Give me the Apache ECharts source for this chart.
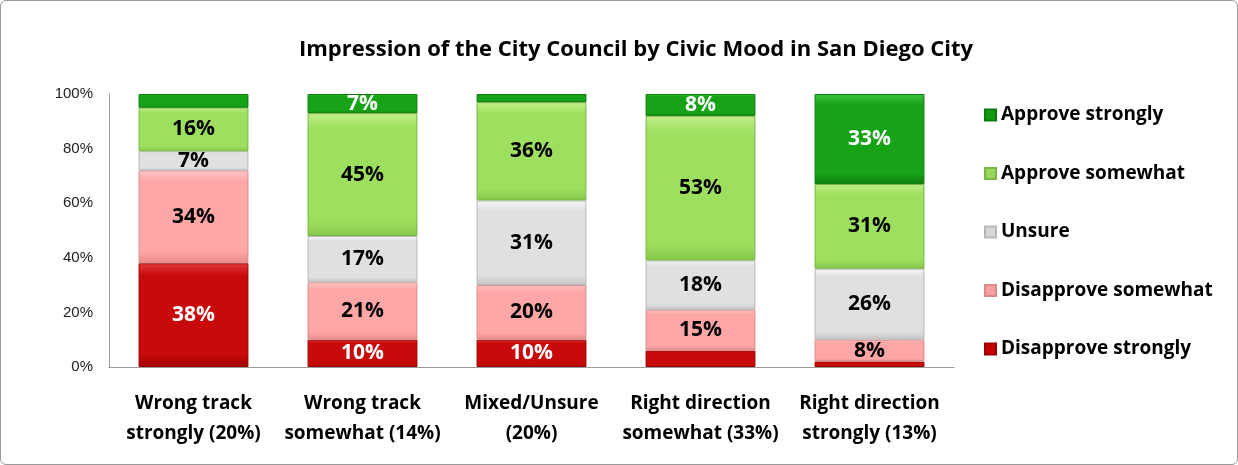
<!DOCTYPE html>
<html>
<head>
<meta charset="utf-8">
<script src="https://cdn.jsdelivr.net/npm/echarts@6/dist/echarts.min.js"></script>
<style>
  html, body { margin: 0; padding: 0; background: #fff; }
  #chart { width: 1238px; height: 465px; box-sizing: border-box; border: 1px solid #9a9a9a; border-radius: 6px; }
</style>
</head>
<body>
<div id="chart"></div>
<script>
// categories
const categories = [
  "Wrong track\nstrongly (20%)",
  "Wrong track\nsomewhat (14%)",
  "Mixed/Unsure\n(20%)",
  "Right direction\nsomewhat (33%)",
  "Right direction\nstrongly (13%)"
]
// series values (percent)
const disapproveStrongly = [38, 10, 10, 6, 2]
const disapproveSomewhat = [34, 21, 20, 15, 8]
const unsure = [7, 17, 31, 18, 26]
const approveSomewhat = [16, 45, 36, 53, 31]
const approveStrongly = [5, 7, 3, 8, 33]
const yTicks = [0, 20, 40, 60, 80, 100]

const font = "'Open Sans', 'Liberation Sans', sans-serif"

// 渐变填充 - 模拟 Excel 斜面效果
const bevel = (base, light, dark) => ({
  type: "linear", x: 0, y: 0, x2: 0, y2: 1,
  colorStops: [
    { offset: 0, color: light },
    { offset: 0.12, color: base },
    { offset: 0.88, color: base },
    { offset: 1, color: dark }
  ]
})

const seriesDefs = [
  { name: "Disapprove strongly", data: disapproveStrongly, color: bevel("#c80a0a", "#e23a3a", "#a00000"), icon: "#c40000", border: "#9a0000", text: "#fff" },
  { name: "Disapprove somewhat", data: disapproveSomewhat, color: bevel("#ffa6a6", "#ffc6c6", "#e88a8a"), icon: "#f7a0a0", border: "#d98a8a", text: "#000" },
  { name: "Unsure", data: unsure, color: bevel("#e0e0e0", "#f6f6f6", "#c4c4c4"), icon: "#d6d6d6", border: "#b8b8b8", text: "#000" },
  { name: "Approve somewhat", data: approveSomewhat, color: bevel("#9ddf5e", "#c2f08a", "#86c84a"), icon: "#9ad65c", border: "#7ab548", text: "#000" },
  { name: "Approve strongly", data: approveStrongly, color: bevel("#17a317", "#3fc43f", "#0d7f0d"), icon: "#159a15", border: "#0c7a0c", text: "#fff" }
]

const chart = echarts.init(document.getElementById("chart"), null, { renderer: "canvas" })

const series = seriesDefs.map((s) => ({
  name: s.name,
  type: "bar",
  stack: "total",
  barWidth: "65%",
  data: s.data,
  itemStyle: { color: s.color, borderColor: s.border, borderWidth: 1 },
  label: {
    show: true,
    position: "inside",
    color: s.text,
    fontFamily: font,
    fontWeight: "bold",
    fontSize: 21,
    formatter: (p) => (p.value >= 7 ? p.value + "%" : "")
  }
}))

const option = {
  backgroundColor: "transparent",
  animation: false,
  title: {
    text: "Impression of the City Council by Civic Mood in San Diego City",
    left: 630,
    textAlign: "center",
    top: 33,
    textStyle: { fontFamily: font, fontWeight: "bold", fontSize: 22, color: "#000" }
  },
  legend: {
    orient: "vertical",
    left: 978,
    top: 99,
    itemGap: 38.5,
    itemWidth: 11,
    itemHeight: 11,
    icon: "rect",
    data: seriesDefs.slice().reverse().map((s) => ({ name: s.name, itemStyle: { color: s.icon } })),
    textStyle: { fontFamily: font, fontWeight: "bold", fontSize: 19, lineHeight: 20, color: "#000" }
  },
  grid: { left: 108, top: 93, width: 845, height: 273 },
  xAxis: {
    type: "category",
    data: categories,
    axisTick: { show: false },
    axisLine: { lineStyle: { color: "#9a9a9a", width: 1 } },
    axisLabel: {
      interval: 0,
      margin: 22,
      lineHeight: 30,
      fontFamily: font,
      fontWeight: "bold",
      fontSize: 19,
      color: "#000"
    }
  },
  yAxis: {
    type: "value",
    min: yTicks[0],
    max: yTicks[yTicks.length - 1],
    interval: 20,
    splitLine: { show: false },
    axisTick: { show: false },
    axisLine: { show: true, lineStyle: { color: "#9a9a9a", width: 1 } },
    axisLabel: {
      formatter: "{value}%",
      margin: 16,
      fontFamily: "'Liberation Sans', Arial, sans-serif",
      fontSize: 15,
      color: "#222"
    }
  },
  series: series
}

chart.setOption(option)
</script>
</body>
</html>
